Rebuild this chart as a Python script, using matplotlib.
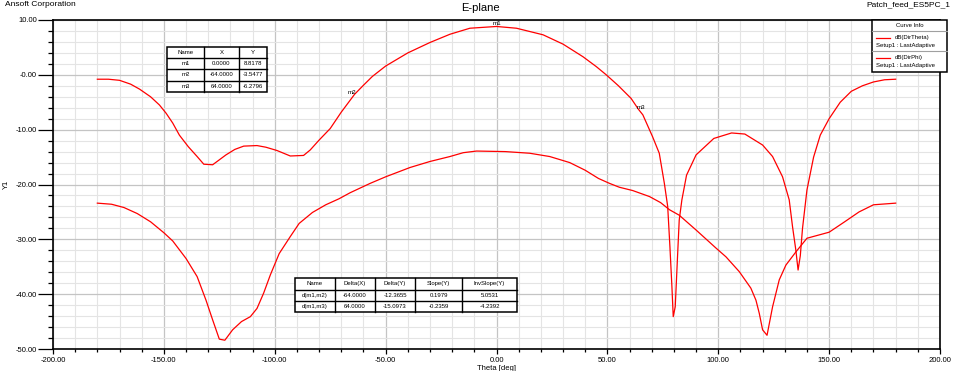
import matplotlib
matplotlib.use("Agg")
import matplotlib.pyplot as plt
from matplotlib.patches import Rectangle
from matplotlib.lines import Line2D
from matplotlib.ticker import MultipleLocator, FixedLocator

plt.rcParams['font.family'] = ['Liberation Sans', 'DejaVu Sans']

# ---------------- data ----------------
theta_dirtheta = [-180, -175, -170, -165, -161, -156, -152, -149, -146, -143, -139, -135, -132, -128,
                  -125, -122, -118, -114, -108, -104, -99, -93, -87, -84, -80, -75, -70, -64, -60,
                  -56, -50, -40, -30, -21, -12, 0, 9, 21, 30, 39, 45, 49.5, 55, 60.7, 64, 66, 70.4,
                  73.4, 75.7, 77.2, 78.2, 79.1, 79.7, 80.6, 81.7, 82.4, 83.6, 85.7, 90, 98, 106, 112,
                  120, 124.5, 129, 132, 133.5, 135, 136, 137, 138, 140, 143, 146, 150, 155, 160, 165,
                  170, 175, 180]
db_dirtheta = [-0.8, -0.8, -1.0, -1.7, -2.6, -4.0, -5.5, -7.0, -8.8, -11.0, -13.1, -14.9, -16.3, -16.4,
               -15.5, -14.6, -13.6, -13.0, -12.9, -13.2, -13.8, -14.8, -14.7, -13.7, -11.9, -9.8, -6.8,
               -3.55, -1.9, -0.3, 1.6, 4.0, 5.9, 7.4, 8.5, 8.82, 8.5, 7.3, 5.6, 3.3, 1.5, 0.0, -2.0,
               -4.3, -6.28, -7.3, -11.3, -14.3, -19.8, -24.0, -31.3, -38.6, -44.1, -42.3, -32.6, -26.5,
               -22.8, -18.3, -14.6, -11.6, -10.6, -10.8, -12.8, -14.9, -18.6, -22.8, -27.7, -32.0,
               -35.6, -33.0, -28.0, -21.0, -15.0, -11.0, -8.0, -5.0, -3.0, -2.0, -1.3, -0.9, -0.8]

theta_dirphi = [-180, -173.6, -168, -162, -156, -150, -146, -140, -135, -131, -128, -125, -122.5, -119,
                -115, -111, -108, -105, -102, -98, -93, -89, -83, -77, -71, -66, -57, -50, -39, -30,
                -21, -15, -9, 4, 15, 24, 33, 40, 46, 51, 55.4, 61.4, 69, 74, 78, 82.4, 90, 99, 103.5,
                109.5, 114.7, 117, 118.5, 120, 122, 124.5, 127.5, 130.5, 135, 140, 150, 157, 163.5,
                170, 180]
db_dirphi = [-23.4, -23.6, -24.2, -25.3, -26.8, -28.8, -30.3, -33.5, -36.8, -41.1, -44.7, -48.2, -48.4,
             -46.5, -45.0, -44.1, -42.6, -39.8, -36.5, -32.6, -29.5, -27.1, -25.1, -23.7, -22.6, -21.5,
             -19.8, -18.6, -16.9, -15.8, -14.9, -14.2, -13.9, -14.0, -14.3, -14.9, -16.0, -17.4, -18.9,
             -19.8, -20.5, -21.1, -22.2, -23.3, -24.6, -25.6, -28.3, -31.6, -33.2, -35.9, -38.9, -41.1,
             -43.5, -46.5, -47.5, -42.3, -37.4, -34.7, -32.3, -29.8, -28.7, -26.8, -25.0, -23.7, -23.4]

xtick_vals = [-200, -150, -100, -50, 0, 50, 100, 150, 200]
xtick_labels = ["-200.00", "-150.00", "-100.00", "-50.00", "0.00", "50.00", "100.00", "150.00", "200.00"]
ytick_vals = [-50, -40, -30, -20, -10, 0, 10]
ytick_labels = ["-50.00", "-40.00", "-30.00", "-20.00", "-10.00", "-0.00", "10.00"]

marker_names = ["m1", "m2", "m3"]
marker_x = [0.0, -64.0, 64.0]
marker_y = [8.8178, -3.5477, -6.2796]
marker_x_txt = ["0.0000", "-64.0000", "64.0000"]
marker_y_txt = ["8.8178", "-3.5477", "-6.2796"]

delta_header = ["Name", "Delta(X)", "Delta(Y)", "Slope(Y)", "InvSlope(Y)"]
delta_rows = [["d(m1,m2)", "-64.0000", "-12.3655", "0.1979", "5.0531"],
              ["d(m1,m3)", "64.0000", "-15.0973", "-0.2359", "-4.2392"]]

# ---------------- figure ----------------
W, H = 960, 371
fig = plt.figure(figsize=(W / 100, H / 100), dpi=100)
AX_L, AX_R, AX_T, AX_B = 53, 940, 20, 349
ax = fig.add_axes([AX_L / W, 1 - AX_B / H, (AX_R - AX_L) / W, (AX_B - AX_T) / H])

def fx(px):
    return px / W

def fy(py):
    return 1 - py / H

red = "#ff0000"
ax.plot(theta_dirtheta, db_dirtheta, color=red, lw=0.9, zorder=3)
ax.plot(theta_dirphi, db_dirphi, color=red, lw=0.9, zorder=3)

ax.set_xlim(-200, 200)
ax.set_ylim(-50, 10)
ax.xaxis.set_major_locator(FixedLocator(xtick_vals))
ax.set_xticklabels(xtick_labels)
ax.yaxis.set_major_locator(FixedLocator(ytick_vals))
ax.set_yticklabels(ytick_labels)
ax.xaxis.set_minor_locator(MultipleLocator(10))
ax.yaxis.set_minor_locator(MultipleLocator(2))

ax.grid(which="major", color="#c4c4c4", lw=0.9, zorder=0)
ax.grid(which="minor", color="#e4e4e4", lw=0.8, zorder=0)
ax.set_axisbelow(True)

for s in ax.spines.values():
    s.set_linewidth(1.2)
    s.set_color("black")

ax.tick_params(axis="y", which="major", length=10.5, width=0.9, labelsize=5.5, pad=1)
ax.tick_params(axis="y", which="minor", length=3.6, width=0.9)
ax.tick_params(axis="x", which="major", length=3.6, width=0.9, labelsize=5.5, pad=2)
ax.tick_params(axis="x", which="minor", length=2.5, width=0.9)

ax.set_xlabel("Theta [deg]", fontsize=5.5, labelpad=1)
ax.set_ylabel("Y1", fontsize=5.5)
ax.yaxis.set_label_coords((10 - AX_L) / (AX_R - AX_L), 0.5)

fig.text(fx(5), fy(5), "Ansoft Corporation", fontsize=6, ha="left", va="center")
fig.text(fx(480), fy(8), "E-plane", fontsize=8, ha="center", va="center")
fig.text(fx(950), fy(5), "Patch_feed_ES5PC_1", fontsize=6, ha="right", va="center")

# marker labels on curve
offs = [(0, 2), (-2, 1), (2, 1)]
for n, mx, my, (ox, oy) in zip(marker_names, marker_x, marker_y, offs):
    ax.annotate(n, (mx, my), xytext=(ox, oy), textcoords="offset points", fontsize=4.5,
                ha="center", va="center", zorder=4)

# ---------------- helper for tables ----------------
def rect(x0, y0, x1, y1, lw=1.0, fc="white"):
    fig.add_artist(Rectangle((fx(x0), fy(y1)), fx(x1) - fx(x0), fy(y0) - fy(y1),
                             transform=fig.transFigure, facecolor=fc, edgecolor="black", lw=lw,
                             zorder=5))

def hline(x0, x1, y, lw=1.0, color="black"):
    fig.add_artist(Line2D([fx(x0), fx(x1)], [fy(y), fy(y)], transform=fig.transFigure,
                          color=color, lw=lw, zorder=6))

def vline(x, y0, y1, lw=1.0):
    fig.add_artist(Line2D([fx(x), fx(x)], [fy(y0), fy(y1)], transform=fig.transFigure,
                          color="black", lw=lw, zorder=6))

def txt(x, y, s, ha="center", fs=4.3):
    fig.text(fx(x), fy(y), s, fontsize=fs, ha=ha, va="center", zorder=7)

# marker table
cols1 = [167, 204, 239, 267]
rows1 = [47, 58, 69, 81, 92]
rect(cols1[0], rows1[0], cols1[-1], rows1[-1], lw=1.1)
for c in cols1[1:-1]:
    vline(c, rows1[0], rows1[-1])
for r in rows1[1:-1]:
    hline(cols1[0], cols1[-1], r)
table1 = [["Name", "X", "Y"]] + [[n, a, b] for n, a, b in zip(marker_names, marker_x_txt, marker_y_txt)]
for i, row in enumerate(table1):
    yc = (rows1[i] + rows1[i + 1]) / 2
    for j, s in enumerate(row):
        txt((cols1[j] + cols1[j + 1]) / 2, yc, s)

# delta table
cols2 = [295, 335, 375, 415, 462, 517]
rows2 = [278, 289.5, 301, 312]
rect(cols2[0], rows2[0], cols2[-1], rows2[-1], lw=1.1)
for c in cols2[1:-1]:
    vline(c, rows2[0], rows2[-1])
for r in rows2[1:-1]:
    hline(cols2[0], cols2[-1], r)
for i, row in enumerate([delta_header] + delta_rows):
    yc = (rows2[i] + rows2[i + 1]) / 2
    for j, s in enumerate(row):
        txt((cols2[j] + cols2[j + 1]) / 2, yc, s)

# curve info legend
rect(872, 20, 947, 72, lw=1.1)
txt(909.5, 25.5, "Curve Info")
hline(872, 947, 31, lw=0.8, color="#a0a0a0")
hline(876, 890, 37.5, lw=0.9, color=red)
txt(895, 37.5, "dB(DirTheta)", ha="left")
txt(876, 46, "Setup1 : LastAdaptive", ha="left")
hline(872, 947, 51, lw=0.8, color="#a0a0a0")
hline(876, 890, 57.5, lw=0.9, color=red)
txt(895, 57.5, "dB(DirPhi)", ha="left")
txt(876, 66, "Setup1 : LastAdaptive", ha="left")

fig.savefig("out.png", dpi=100)
